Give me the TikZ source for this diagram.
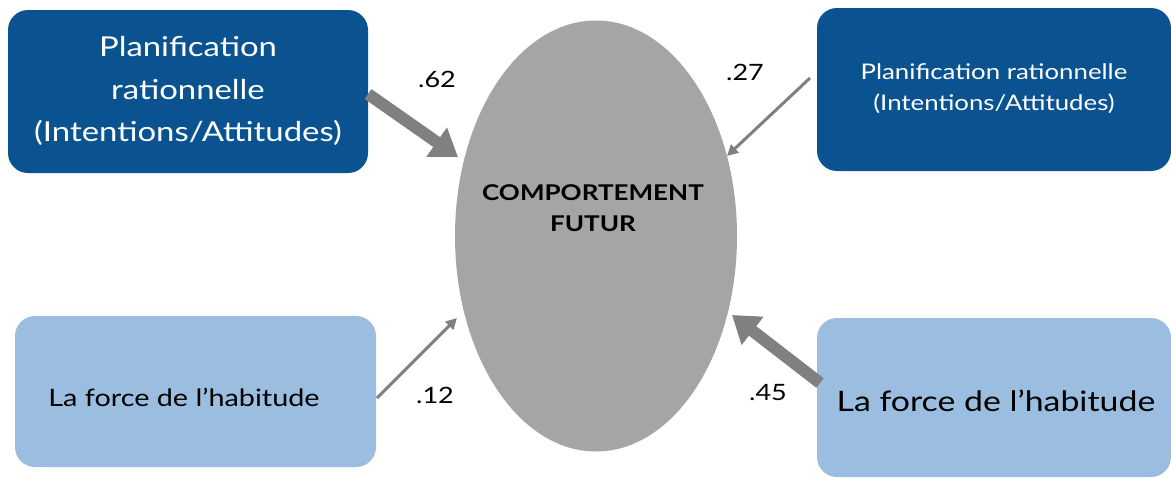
\documentclass[tikz,border=0pt]{standalone}
\usepackage{fontspec}
\setmainfont{Lato}[FakeStretch=1.2]
\usetikzlibrary{arrows.meta,shapes.geometric}
\definecolor{darkbox}{HTML}{0B5390}
\definecolor{lightbox}{HTML}{9BBDE0}
\definecolor{ellgray}{HTML}{A5A5A5}
\definecolor{arrgray}{HTML}{808080}
\begin{document}
\begin{tikzpicture}[x=1pt,y=-1pt,
  boxdark/.style={fill=darkbox,rounded corners=20pt,text=white,align=center,inner sep=0pt},
  boxlight/.style={fill=lightbox,rounded corners=20pt,text=black,align=center,inner sep=0pt},
  thickarr/.style={draw=arrgray,line width=12pt,-{Triangle[length=26pt,width=34pt]}},
  thinarr/.style={draw=arrgray,line width=3pt,-{Triangle[length=11pt,width=11pt]}},
  coef/.style={font=\fontsize{22.5}{26}\selectfont,text=black}]
\useasboundingbox (0,0) rectangle (1171,477);
\fill[white] (0,0) rectangle (1171,477);
% boxes
\path[boxdark] (8,10) rectangle (368,173);
\node[text=white,align=center,font=\fontsize{27.4}{42.5}\selectfont] (tl) at (188,91) {Planification\\rationnelle\\(Intentions/Attitudes)};
\path[boxdark] (817,8) rectangle (1171,171);
\node[text=white,align=center,font=\fontsize{21.5}{31}\selectfont] (tr) at (994,89) {Planification rationnelle\\(Intentions/Attitudes)};
\path[boxlight] (15,316) rectangle (376,467);
\node[text=black,font=\fontsize{24}{28}\selectfont] (bl) at (184,397) {La force de l’habitude};
\path[boxlight] (817,318) rectangle (1171,477);
\node[text=black,font=\fontsize{28.2}{32}\selectfont] (br) at (996,401) {La force de l’habitude};
% ellipse
\node[ellipse,fill=ellgray,minimum width=282pt,minimum height=431pt,inner sep=0pt] (c) at (596,236) {};
\node[align=center,font=\bfseries\fontsize{21.7}{31}\selectfont] (ct) at (593,208) {COMPORTEMENT\\FUTUR};
% connector endpoints
\coordinate (a1s) at (368,94);
\coordinate (a1e) at (458,157);
\coordinate (a2s) at (810,78);
\coordinate (a2e) at (727,156);
\coordinate (a3s) at (377,398);
\coordinate (a3e) at (457,318);
\coordinate (a4s) at (820,383);
\coordinate (a4e) at (732,315);
\draw[thickarr] (a1s) -- (a1e);
\draw[thinarr] (a2s) -- (a2e);
\draw[thinarr] (a3s) -- (a3e);
\draw[thickarr] (a4s) -- (a4e);
% coefficients
\node[coef] (k1) at (437,79) {.62};
\node[coef] (k2) at (745,72) {.27};
\node[coef] (k3) at (435,395) {.12};
\node[coef] (k4) at (768,393) {.45};
\end{tikzpicture}
\end{document}
